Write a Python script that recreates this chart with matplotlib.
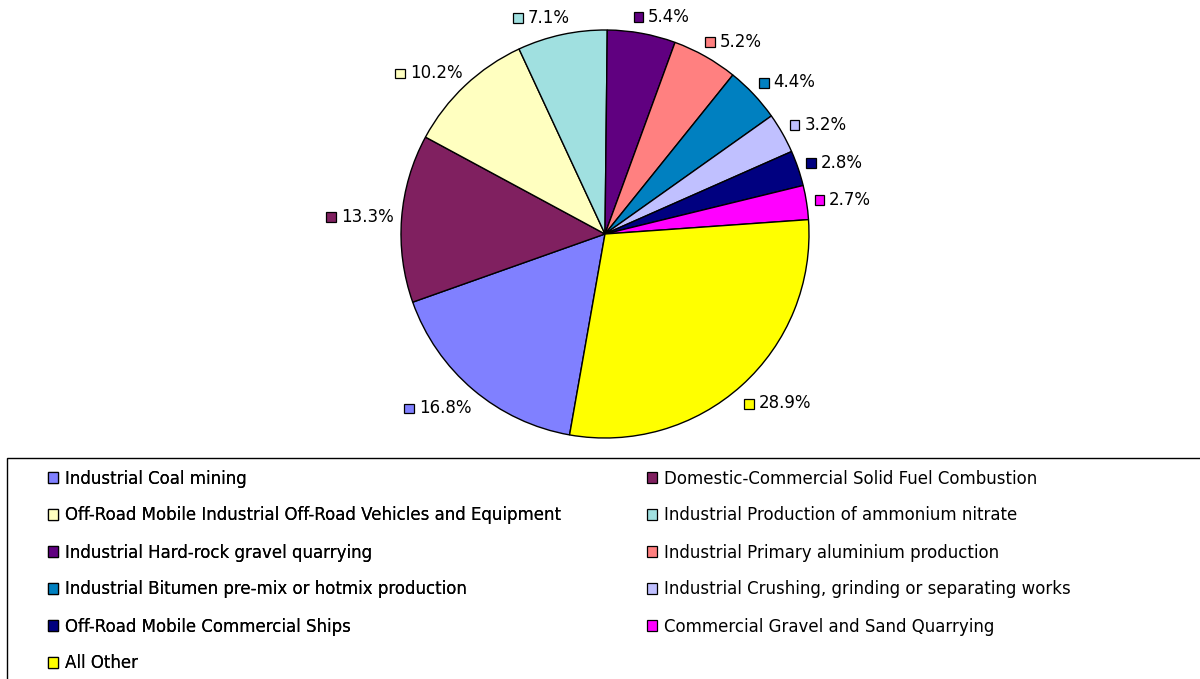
import numpy as np
import matplotlib
matplotlib.use('Agg')
import matplotlib.pyplot as plt
from matplotlib.patches import Patch, Rectangle
from matplotlib.offsetbox import AnnotationBbox, DrawingArea, HPacker, TextArea

categories = [
    'Industrial Coal mining',
    'Domestic-Commercial Solid Fuel Combustion',
    'Off-Road Mobile Industrial Off-Road Vehicles and Equipment',
    'Industrial Production of ammonium nitrate',
    'Industrial Hard-rock gravel quarrying',
    'Industrial Primary aluminium production',
    'Industrial Bitumen pre-mix or hotmix production',
    'Industrial Crushing, grinding or separating works',
    'Off-Road Mobile Commercial Ships',
    'Commercial Gravel and Sand Quarrying',
    'All Other',
]
shares = [16.8, 13.3, 10.2, 7.1, 5.4, 5.2, 4.4, 3.2, 2.8, 2.7, 28.9]
colors = ['#8080FF', '#802060', '#FFFFC0', '#A0E0E0', '#600080', '#FF8080',
          '#0080C0', '#C0C0FF', '#000080', '#FF00FF', '#FFFF00']

W, H = 1200, 679
plt.rcParams['font.family'] = 'DejaVu Sans'
fig = plt.figure(figsize=(12, 6.79), dpi=100)

# pie centred at (605, 234) px, radius 204 px
cx, cy, r = 605, 234, 204
ax = fig.add_axes([(cx - r) / W, (H - cy - r) / H, 2 * r / W, 2 * r / H])
wedges, _ = ax.pie(shares, colors=colors, startangle=-100, counterclock=False,
                   radius=1, wedgeprops=dict(edgecolor='black', linewidth=1.0))
ax.set_xlim(-1, 1)
ax.set_ylim(-1, 1)
ax.set_aspect('equal')
ax.axis('off')

# percentage labels with coloured squares, just outside each slice
for w, val, col in zip(wedges, shares, colors):
    mid = np.deg2rad((w.theta1 + w.theta2) / 2)
    dx, dy = np.cos(mid), np.sin(mid)
    lx = dx + (15 - 7 * dx ** 4) / r * np.sign(dx)
    ly = dy + (8 if dy > 0 else 15) / r * dy
    da = DrawingArea(7.5, 7.5, 0, 0)
    da.add_artist(Rectangle((0, 0), 7, 7, facecolor=col, edgecolor='black', linewidth=0.9))
    ta = TextArea(f'{val:.1f}%', textprops=dict(fontsize=12))
    box = HPacker(children=[da, ta], align='center', pad=0, sep=3)
    ab = AnnotationBbox(box, (lx, ly), xycoords='data', frameon=False,
                        box_alignment=(0.5 - 0.5 * dx, 0.5 - 0.5 * dy), pad=0,
                        annotation_clip=False)
    ax.add_artist(ab)

# legend frame (runs off right and bottom edges)
fig.patches.append(Rectangle((7 / W, -0.1), 1.2, (H - 458) / H + 0.1,
                             transform=fig.transFigure, fill=False,
                             edgecolor='black', linewidth=1.0))

handles = [Patch(facecolor=c, edgecolor='black', linewidth=0.9, label=l)
           for c, l in zip(colors, categories)]
opts = dict(loc='upper left', frameon=False, fontsize=12, ncol=1,
            handlelength=0.6, handleheight=0.6, handletextpad=0.4,
            labelspacing=1.14, borderpad=0, borderaxespad=0)
leg1 = fig.legend(handles=handles[0::2], bbox_to_anchor=(48 / W, 1 - 469.5 / H), **opts)
fig.add_artist(leg1)
fig.legend(handles=handles[1::2], bbox_to_anchor=(647 / W, 1 - 469.5 / H), **opts)

fig.savefig('out.png', dpi=100, facecolor='white')
